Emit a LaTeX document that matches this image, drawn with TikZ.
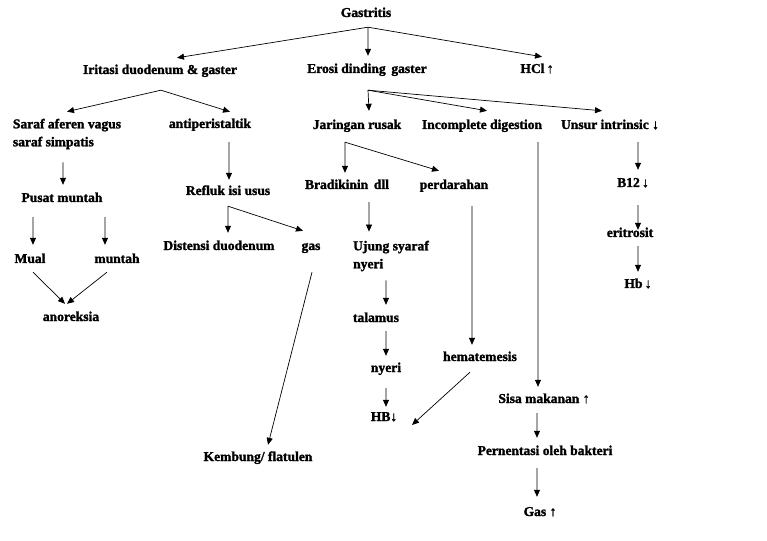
\documentclass[tikz,border=0pt]{standalone}
\usepackage{fontspec}
\setmainfont{Liberation Serif}[BoldFeatures={FakeBold=1.6}]
\usetikzlibrary{arrows.meta}
\begin{document}
\begin{tikzpicture}[x=1bp,y=-1bp,
  lbl/.style={font=\bfseries\fontsize{13.6}{18}\selectfont, inner sep=0pt, text height=9bp, text depth=3bp},
  lbl2/.style={font=\bfseries\fontsize{13.6}{18}\selectfont, inner sep=0pt, align=left},
  arr/.style={-{Triangle[length=7bp,width=6bp]}, line width=0.7bp},
  ln/.style={line width=0.7bp}]
\fill[white] (0,0) rectangle (767,541);
\useasboundingbox (0,0) rectangle (767,541);

% nodes
\node[lbl] (g) at (366,14) {Gastritis};
\node[lbl] (irr) at (160,71) {Iritasi duodenum \& gaster};
\node[lbl] (ero) at (367,70) {Erosi dinding\, gaster};
\node[lbl] (hcl) at (537,70) {HCl\,↑};
\node[lbl2] (saraf) at (67,134) {Saraf aferen vagus\\saraf simpatis};
\node[lbl] (anti) at (210,125) {antiperistaltik};
\node[lbl] (jar) at (357,126) {Jaringan rusak};
\node[lbl] (inc) at (482,126) {Incomplete digestion};
\node[lbl] (uns) at (610,126) {Unsur intrinsic ↓};
\node[lbl] (pusat) at (62,199) {Pusat muntah};
\node[lbl] (mual) at (30,260) {Mual};
\node[lbl] (mun) at (117,260) {muntah};
\node[lbl] (ano) at (71,318) {anoreksia};
\node[lbl] (ref) at (228,192) {Refluk isi usus};
\node[lbl] (dis) at (219,247) {Distensi duodenum};
\node[lbl] (gas) at (311,247) {gas};
\node[lbl] (kem) at (258,458) {Kembung/ flatulen};
\node[lbl] (brad) at (347,186) {Bradikinin\, dll};
\node[lbl] (perd) at (454,186) {perdarahan};
\node[lbl2] (ujung) at (391,256) {Ujung syaraf\\nyeri};
\node[lbl] (tal) at (376,319) {talamus};
\node[lbl] (nyeri) at (386,369) {nyeri};
\node[lbl] (hb) at (384,418) {HB↓};
\node[lbl] (hem) at (480,358) {hematemesis};
\node[lbl] (sisa) at (544,400) {Sisa makanan ↑};
\node[lbl] (per) at (545,452) {Pernentasi oleh bakteri};
\node[lbl] (gas2) at (540,513) {Gas ↑};
\node[lbl] (b12) at (633,184) {B12\,↓};
\node[lbl] (eri) at (630,234) {eritrosit};
\node[lbl] (hbb) at (638,285) {Hb\,↓};

% branch points
\coordinate (hubG) at ([xshift=2bp,yshift=-7bp]g.south);
\coordinate (hubI) at ([xshift=1bp,yshift=-13bp]irr.south);
\coordinate (hubE) at ([xshift=1bp,yshift=-14bp]ero.south);
\coordinate (hubR) at ([yshift=-8bp]ref.south);
\coordinate (hubJ) at ([xshift=-12bp,yshift=-10bp]jar.south);

% connectors
\draw[arr] (hubG) -- ([xshift=17bp,yshift=7bp]irr.north);
\draw[arr] (hubG) -- ([xshift=1bp,yshift=8bp]ero.north);
\draw[arr] (hubG) -- ([xshift=5bp,yshift=7bp]hcl.north);

\draw[arr] (hubI) -- ([yshift=7bp]saraf.north);
\draw[arr] (hubI) -- ([xshift=20bp,yshift=7bp]anti.north);

\draw[arr] (hubE) -- ([xshift=12bp,yshift=9bp]jar.north);
\draw[arr] (hubE) -- ([xshift=5bp,yshift=9bp]inc.north);
\draw[arr] (hubE) -- ([xshift=-8bp,yshift=9bp]uns.north);

\draw[arr] ([xshift=-4bp,yshift=-13bp]saraf.south) -- ([xshift=1bp,yshift=8bp]pusat.north);
\draw[arr] ([xshift=-29bp,yshift=-12bp]pusat.south) -- ([xshift=3bp,yshift=9bp]mual.north);
\draw[arr] ([xshift=43bp,yshift=-12bp]pusat.south) -- ([xshift=-12bp,yshift=9bp]mun.north);
\draw[arr] ([xshift=3bp,yshift=-6bp]mual.south) -- ([xshift=-6bp,yshift=8bp]ano.north);
\draw[arr] ([xshift=-10bp,yshift=-6bp]mun.south) -- ([xshift=-4bp,yshift=8bp]ano.north);

\draw[arr] ([xshift=19bp,yshift=-11bp]anti.south) -- ([xshift=1bp,yshift=6bp]ref.north);
\draw[arr] (hubR) -- ([xshift=9bp,yshift=8bp]dis.north);
\draw[arr] (hubR) -- ([xshift=-8bp,yshift=10bp]gas.north);
\draw[arr] ([xshift=1bp,yshift=-19bp]gas.south) -- ([xshift=10bp,yshift=7bp]kem.north);

\draw[arr] (hubJ) -- ([xshift=-2bp,yshift=7bp]brad.north);
\draw[arr] (hubJ) -- ([xshift=-15bp,yshift=9bp]perd.north);
\draw[arr] ([xshift=22bp,yshift=-10bp]brad.south) -- ([xshift=-22bp,yshift=9bp]ujung.north);
\draw[arr] ([xshift=-5bp,yshift=-9bp]ujung.south) -- ([xshift=10bp,yshift=8bp]tal.north);
\draw[arr] ([xshift=10bp,yshift=-6bp]tal.south) -- ([yshift=7bp]nyeri.north);
\draw[arr] ([yshift=-13bp]nyeri.south) -- ([xshift=2bp,yshift=5bp]hb.north);
\draw[arr] ([xshift=18bp,yshift=-14bp]perd.south) -- ([xshift=-8bp,yshift=7bp]hem.north);
\draw[arr] ([xshift=-10bp,yshift=-8bp]hem.south) -- ([xshift=28bp,yshift=-7bp]hb.center);

\draw[arr] ([xshift=56bp,yshift=-10bp]inc.south) -- ([xshift=-6bp,yshift=7bp]sisa.north);
\draw[arr] ([xshift=-7bp,yshift=-7bp]sisa.south) -- ([xshift=-8bp,yshift=8bp]per.north);
\draw[arr] ([xshift=-8bp,yshift=-10bp]per.south) -- ([xshift=-3bp,yshift=10bp]gas2.north);

\draw[arr] ([xshift=28bp,yshift=-10bp]uns.south) -- ([xshift=5bp,yshift=8bp]b12.north);
\draw[arr] ([xshift=5bp,yshift=-15bp]b12.south) -- ([xshift=8bp,yshift=-2bp]eri.north);
\draw[arr] ([xshift=8bp,yshift=-6bp]eri.south) -- ([yshift=7bp]hbb.north);
\end{tikzpicture}
\end{document}
